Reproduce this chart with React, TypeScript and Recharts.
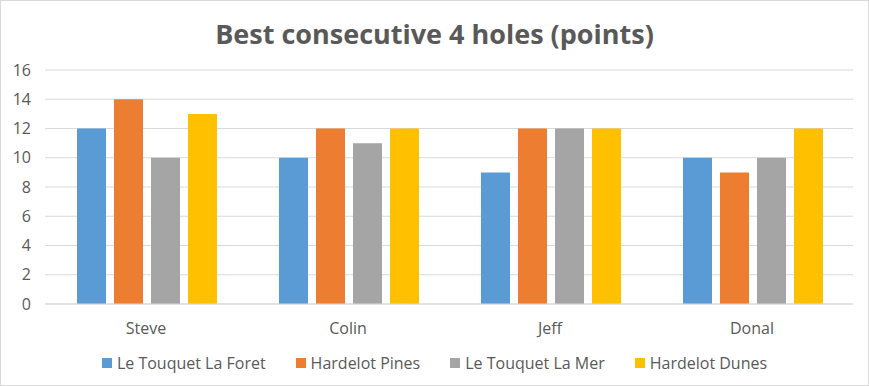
import React from 'react';
import { BarChart, Bar, XAxis, YAxis, CartesianGrid, Legend } from 'recharts';

const players = ['Steve', 'Colin', 'Jeff', 'Donal'];
const laForet = [12, 10, 9, 10];
const pines = [14, 12, 12, 9];
const laMer = [10, 11, 12, 10];
const dunes = [13, 12, 12, 12];
const yTicks = [0, 2, 4, 6, 8, 10, 12, 14, 16];

const series = [
  { key: 'laForet', name: 'Le Touquet La Foret', color: '#5B9BD5' },
  { key: 'pines', name: 'Hardelot Pines', color: '#ED7D31' },
  { key: 'laMer', name: 'Le Touquet La Mer', color: '#A5A5A5' },
  { key: 'dunes', name: 'Hardelot Dunes', color: '#FFC000' },
];

const data = players.map((p, i) => ({
  name: p,
  laForet: laForet[i],
  pines: pines[i],
  laMer: laMer[i],
  dunes: dunes[i],
}));

const font = '"Open Sans", sans-serif';
const textColor = '#595959';

const LegendContent = () => (
  <div style={{ display: 'flex', justifyContent: 'center', gap: 30 }}>
    {series.map((s) => (
      <div key={s.key} style={{ display: 'flex', alignItems: 'center', fontSize: 16, color: textColor }}>
        <span style={{ width: 10, height: 10, background: s.color, marginRight: 5, display: 'inline-block' }} />
        {s.name}
      </div>
    ))}
  </div>
);

export default function App() {
  return (
    <div
      style={{
        position: 'absolute',
        left: 0,
        top: 0,
        width: 869,
        height: 386,
        boxSizing: 'border-box',
        border: '1px solid #d9d9d9',
        background: '#fff',
        fontFamily: font,
      }}
    >
      <div
        style={{
          position: 'absolute',
          top: 14,
          width: '100%',
          textAlign: 'center',
          fontSize: 27,
          fontWeight: 700,
          color: textColor,
        }}
      >
        Best consecutive 4 holes (points)
      </div>
      <div style={{ position: 'absolute', left: -1, top: -1 }}>
        <BarChart
          width={869}
          height={386}
          data={data}
          margin={{ top: 70, right: 16, bottom: 18, left: 0 }}
          barCategoryGap={32}
          barGap={8}
        >
          <CartesianGrid vertical={false} stroke="#d9d9d9" />
          <XAxis
            dataKey="name"
            axisLine={{ stroke: '#d9d9d9' }}
            tickLine={false}
            tick={{ fill: textColor, fontSize: 16, fontFamily: font }}
            tickMargin={13}
            height={42}
          />
          <YAxis
            domain={[0, 16]}
            ticks={yTicks}
            axisLine={false}
            tickLine={false}
            width={45}
            tick={{ fill: textColor, fontSize: 16, fontFamily: font }}
            tickMargin={8}
          />
          <Legend verticalAlign="bottom" content={<LegendContent />} wrapperStyle={{ top: 352, left: 0, width: 869 }} />
          {series.map((s) => (
            <Bar key={s.key} dataKey={s.key} name={s.name} fill={s.color} isAnimationActive={false} />
          ))}
        </BarChart>
      </div>
    </div>
  );
}
